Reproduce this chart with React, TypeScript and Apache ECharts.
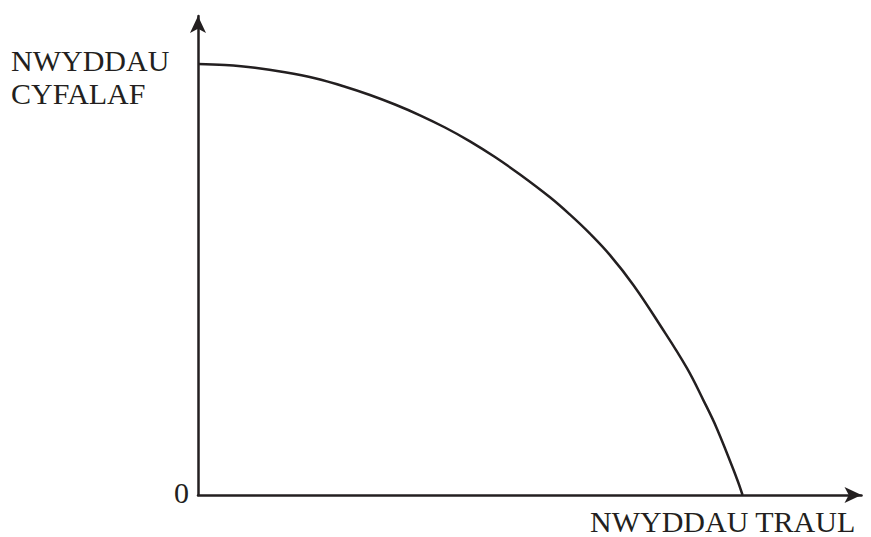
import React, { useEffect, useRef } from "react";
import * as echarts from "echarts";

const curveX = [0, 4.07, 8.59, 13.11, 17.63, 22.16, 25.92, 29.69, 33.46, 37.23, 40.99, 44.76, 48.53, 53.05, 56.07, 59.08, 62.09, 65.61, 69.63, 73.65, 76.16, 78.18, 81.19, 82.07];
const curveY = [89.98, 89.75, 89.19, 88.25, 86.99, 85.24, 83.51, 81.52, 79.27, 76.72, 73.84, 70.56, 66.91, 62.15, 58.52, 54.55, 50.08, 43.86, 35.49, 26.58, 19.81, 13.95, 3.51, 0];
const yTitleLines = ["NWYDDAU", "CYFALAF"];
const xTitle = "NWYDDAU TRAUL";
const originLabel = "0";

const INK = "#231f20";
const FONT = "'Liberation Serif', 'Times New Roman', serif";

export default function App() {
  const ref = useRef<HTMLDivElement>(null);
  useEffect(() => {
    if (!ref.current) return;
    const chart = echarts.init(ref.current, null, { renderer: "svg" });
    const data = curveX.map((x, i) => [x, curveY[i]]);
    chart.setOption({
      animation: false,
      backgroundColor: "#ffffff",
      grid: { left: 198, right: 9.5, top: 16, bottom: 42 },
      xAxis: {
        type: "value",
        min: 0,
        max: 100,
        axisLine: { show: true, symbol: ["none", "arrow"], symbolSize: [12, 17], lineStyle: { color: INK, width: 2.5 } },
        axisTick: { show: false },
        axisLabel: { show: false },
        splitLine: { show: false },
      },
      yAxis: {
        type: "value",
        min: 0,
        max: 100,
        axisLine: { show: true, symbol: ["none", "arrow"], symbolSize: [12, 17], lineStyle: { color: INK, width: 2.5 } },
        axisTick: { show: false },
        axisLabel: { show: false },
        splitLine: { show: false },
      },
      series: [
        {
          type: "line",
          data,
          smooth: 0.4,
          symbol: "none",
          lineStyle: { color: INK, width: 2.5 },
        },
      ],
      graphic: [
        ...yTitleLines.map((t, i) => ({
          type: "text",
          x: 11,
          y: 60.5 + i * 33,
          style: { text: t, font: `30px ${FONT}`, fill: INK, textAlign: "left", textVerticalAlign: "middle", lineHeight: 24 },
        })),
        {
          type: "text",
          x: 189,
          y: 492,
          style: { text: originLabel, font: `30px ${FONT}`, fill: INK, textAlign: "right", textVerticalAlign: "middle", lineHeight: 24 },
        },
        {
          type: "text",
          x: 590,
          y: 521.5,
          style: { text: xTitle, font: `30px ${FONT}`, fill: INK, textAlign: "left", textVerticalAlign: "middle", lineHeight: 22 },
        },
      ],
    });
    return () => chart.dispose();
  }, []);
  return <div ref={ref} style={{ width: 871, height: 537, position: "absolute", left: 0, top: 0 }} />;
}
